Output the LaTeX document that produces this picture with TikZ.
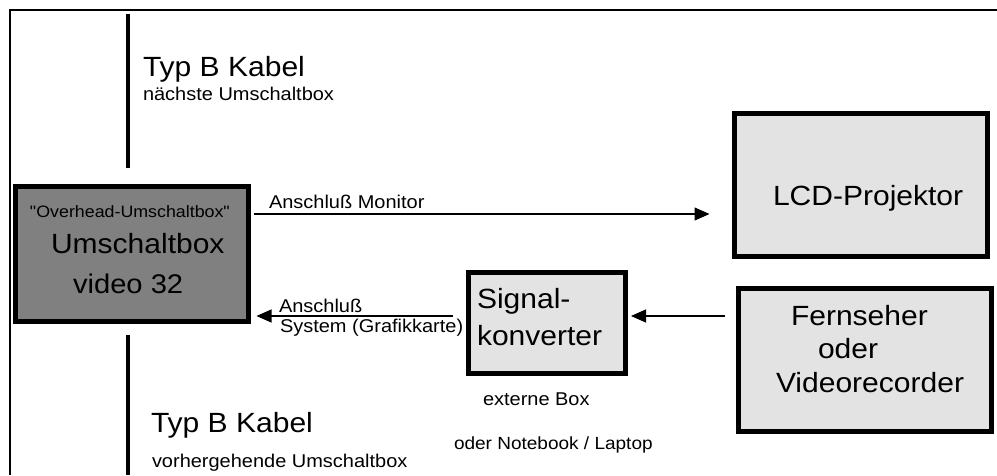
\documentclass[tikz,border=0pt]{standalone}
\usepackage{fontspec}
\setmainfont{Liberation Sans}[FakeStretch=1.08, Ligatures=TeXOff]
\usetikzlibrary{arrows.meta}
\definecolor{darkbox}{HTML}{808080}
\definecolor{lightbox}{HTML}{E3E3E3}
\newcommand{\fs}[1]{\fontsize{#1}{#1}\selectfont}
\begin{document}
\begin{tikzpicture}[x=1pt,y=-1pt,
  lbl/.style={anchor=base west, inner sep=0pt, outer sep=0pt},
  big/.style={lbl, font=\fs{27.8}},
  small/.style={lbl, font=\fs{18.5}},
  box/.style={draw=black, line width=5pt, inner sep=0pt, outer sep=0pt},
  conn/.style={line width=1.2pt, -{Triangle[length=15pt,width=13pt]}},
  cable/.style={line width=4pt}]
\useasboundingbox (0,0) rectangle (997,475);
% frame
\draw[line width=2.5pt] (10,475) -- (10,10) -- (997,10);
% cable lines
\coordinate (c1a) at (127.5,14);
\coordinate (c1b) at (127.5,168);
\coordinate (c2a) at (127.5,335);
\coordinate (c2b) at (127.5,475);
\draw[cable] (c1a) -- (c1b);
\draw[cable] (c2a) -- (c2b);
\node[big] (typA) at (143,76) {Typ B Kabel};
\node[small] (next) at (143,100) {nächste Umschaltbox};
\node[big] (typB) at (151,432) {Typ B Kabel};
\node[small] (prev) at (152,467) {vorhergehende Umschaltbox};
% boxes
\node[box, fill=darkbox, minimum width=233pt, minimum height=135.5pt] (main) at (132,253.75) {};
\node[box, fill=lightbox, minimum width=252.5pt, minimum height=143pt] (lcd) at (860.75,185) {};
\node[box, fill=lightbox, minimum width=252.5pt, minimum height=143pt] (tv) at (864.75,360) {};
\node[box, fill=lightbox, minimum width=156.5pt, minimum height=101pt] (sig) at (546.75,323) {};
% box texts
\node[lbl, font=\fs{16.5}] (ovh) at (30,217) {"Overhead-Umschaltbox"};
\node[big] (ums) at (51,253) {Umschaltbox};
\node[big, font=\fs{27}] (vid) at (73,293) {video 32};
\node[big] (lcdt) at (773,205) {LCD-Projektor};
\node[big] (sig1) at (477,308) {Signal-};
\node[big] (sig2) at (477,345) {konverter};
\node[small] (ext) at (483,405) {externe Box};
\node[lbl, font=\fs{17.6}] (note) at (454,449) {oder Notebook / Laptop};
\node[big] (tv1) at (791,325) {Fernseher};
\node[big] (tv2) at (818,358) {oder};
\node[big] (tv3) at (776,392) {Videorecorder};
% connectors
\draw[conn, shorten <=5pt, shorten >=25pt] (main.east |- 0,214) -- (lcd.west |- 0,214);
\node[small] (mon) at (269,208) {Anschluß Monitor};
\draw[conn, shorten <=16pt, shorten >=8pt] (sig.west |- 0,316) -- (main.east |- 0,316);
\node[small] (ans) at (279,312) {Anschluß};
\node[small] (sys) at (280,332) {System (Grafikkarte)};
\draw[conn, shorten <=14pt, shorten >=6pt] (tv.west |- 0,316) -- (sig.east |- 0,316);
\end{tikzpicture}
\end{document}
